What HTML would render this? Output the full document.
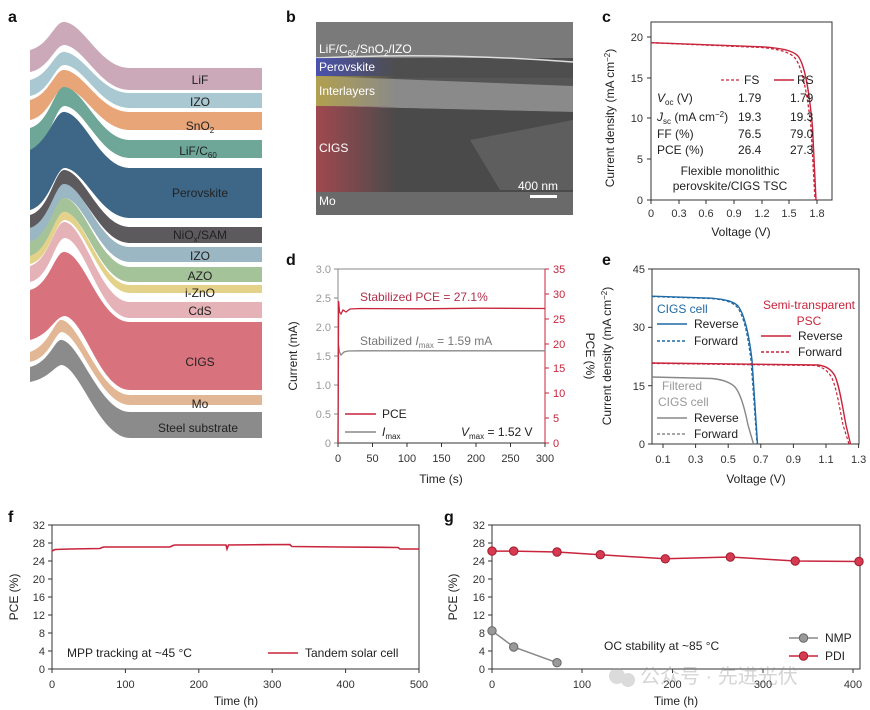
<!DOCTYPE html>
<html><head><meta charset="utf-8"><style>
html,body{margin:0;padding:0;background:#fff;}
svg{display:block;font-family:"Liberation Sans","Noto Sans CJK SC",sans-serif;}
.t{font-size:11px;fill:#333}
.l{font-size:12px;fill:#222}
.p{font-size:16px;font-weight:bold;fill:#111}
.ax{stroke:#333;stroke-width:1;fill:none}
</style></head><body>
<svg width="870" height="710" viewBox="0 0 870 710">
<defs>
<linearGradient id="semfade" x1="0" x2="1"><stop offset="0" stop-opacity="0.75"/><stop offset="1" stop-opacity="0"/></linearGradient>
<linearGradient id="blueF" x1="0" x2="1"><stop offset="0" stop-color="#4a52b8" stop-opacity="0.9"/><stop offset="1" stop-color="#4a52b8" stop-opacity="0"/></linearGradient>
<linearGradient id="yelF" x1="0" x2="1"><stop offset="0" stop-color="#b8a445" stop-opacity="0.85"/><stop offset="1" stop-color="#b8a445" stop-opacity="0"/></linearGradient>
<linearGradient id="redF" x1="0" x2="1"><stop offset="0" stop-color="#b04850" stop-opacity="0.85"/><stop offset="1" stop-color="#b04850" stop-opacity="0"/></linearGradient>
</defs>

<!-- Panel letters -->
<text x="8" y="22" class="p">a</text>
<text x="286" y="22" class="p">b</text>
<text x="602" y="22" class="p">c</text>
<text x="286" y="265" class="p">d</text>
<text x="602" y="265" class="p">e</text>
<text x="8" y="522" class="p">f</text>
<text x="444" y="522" class="p">g</text>

<!-- Panel a: layer stack -->
<g id="stack">
<!-- y0 top, h thickness, color -->
<path d="M30,50 C50,45 55,20 65,22 C85,25 100,68 130,68 L262,68 L262,90 L130,90 C100,90 85,48 65,45 C55,44 50,68 30,72 Z" fill="#cba9b9"/>
<path d="M30,80 C50,75 55,50 65,52 C85,55 100,93 130,93 L262,93 L262,108 L130,108 C100,108 85,67 65,65 C55,64 50,92 30,96 Z" fill="#a9c8d2"/>
<path d="M30,100 C50,95 55,68 65,70 C85,73 100,112 130,112 L262,112 L262,130 L130,130 C100,130 85,90 65,88 C55,87 50,116 30,120 Z" fill="#e7a578"/>
<path d="M30,128 C50,123 55,85 65,87 C85,90 100,140 130,140 L262,140 L262,158 L130,158 C100,158 85,108 65,106 C55,105 50,146 30,150 Z" fill="#6ea797"/>
<path d="M30,150 C50,140 55,110 65,112 C85,115 100,168 130,168 L262,168 L262,218 L130,218 C100,218 85,170 65,168 C55,168 50,205 30,210 Z" fill="#3e6687"/>
<path d="M30,215 C50,210 55,168 65,170 C85,173 100,227 130,227 L262,227 L262,243 L130,243 C100,243 85,188 65,186 C55,186 50,225 30,228 Z" fill="#5d5a5d"/>
<path d="M30,228 C50,222 55,182 65,184 C85,187 100,247 130,247 L262,247 L262,262 L130,262 C100,262 85,200 65,198 C55,198 50,238 30,242 Z" fill="#9bb7c3"/>
<path d="M30,242 C50,236 55,196 65,198 C85,201 100,267 130,267 L262,267 L262,282 L130,282 C100,282 85,215 65,212 C55,212 50,252 30,256 Z" fill="#a5c399"/>
<path d="M30,256 C50,250 55,210 65,212 C85,215 100,285 130,285 L262,285 L262,293 L130,293 C100,293 85,222 65,220 C55,220 50,260 30,264 Z" fill="#e5d28a"/>
<path d="M30,266 C50,260 55,220 65,222 C85,225 100,302 130,302 L262,302 L262,318 L130,318 C100,318 85,240 65,238 C55,238 50,278 30,282 Z" fill="#e5b3b7"/>
<path d="M30,290 C50,285 55,250 65,252 C85,255 100,322 130,322 L262,322 L262,390 L130,390 C100,390 85,320 65,316 C55,316 50,335 30,340 Z" fill="#d8737e"/>
<path d="M30,352 C50,345 55,318 62,320 C80,323 100,395 130,395 L262,395 L262,405 L130,405 C100,405 80,335 62,332 C55,332 50,358 30,362 Z" fill="#e2b795"/>
<path d="M30,367 C50,362 55,338 62,340 C80,343 100,412 130,412 L262,412 L262,438 L130,438 C100,438 80,368 62,365 C55,365 50,378 30,382 Z" fill="#8b8b8b"/>
</g>
<g font-size="12" fill="#222" text-anchor="middle">
<text x="200" y="84">LiF</text>
<text x="200" y="106">IZO</text>
<text x="200" y="130">SnO<tspan font-size="8" dy="3">2</tspan></text>
<text x="198" y="155">LiF/C<tspan font-size="8" dy="3">60</tspan></text>
<text x="200" y="197">Perovskite</text>
<text x="200" y="239">NiO<tspan font-size="8" dy="3">x</tspan><tspan dy="-3">/SAM</tspan></text>
<text x="200" y="260">IZO</text>
<text x="200" y="280">AZO</text>
<text x="200" y="297">i-ZnO</text>
<text x="200" y="315">CdS</text>
<text x="200" y="366">CIGS</text>
<text x="200" y="408">Mo</text>
<text x="198" y="432">Steel substrate</text>
</g>

<!-- Panel b: SEM -->
<rect x="316" y="22" width="257" height="193" fill="#555"/>
<rect x="316" y="22" width="257" height="38" fill="#7a7a7a"/>
<rect x="316" y="58" width="257" height="20" fill="#4e4e4e"/>
<path d="M316,76 L573,86 L573,112 L316,106 Z" fill="#8a8a8a"/>
<path d="M316,106 L573,112 L573,195 L316,192 Z" fill="#4a4a4a"/>
<path d="M470,140 L573,120 L573,190 L500,190 Z" fill="#5e5e5e"/>
<rect x="316" y="192" width="257" height="23" fill="#6a6a6a"/>
<path d="M316,58 Q440,52 573,62" stroke="#ddd" stroke-width="1.5" fill="none"/>
<rect x="316" y="58" width="80" height="18" fill="url(#blueF)"/>
<rect x="316" y="76" width="80" height="30" fill="url(#yelF)"/>
<rect x="316" y="106" width="80" height="86" fill="url(#redF)"/>
<g font-size="12" fill="#fff">
<text x="319" y="53">LiF/C<tspan font-size="8" dy="3">60</tspan><tspan dy="-3">/SnO</tspan><tspan font-size="8" dy="3">2</tspan><tspan dy="-3">/IZO</tspan></text>
<text x="319" y="71">Perovskite</text>
<text x="319" y="95">Interlayers</text>
<text x="319" y="152">CIGS</text>
<text x="319" y="205">Mo</text>
<text x="518" y="190">400 nm</text>
</g>
<rect x="530" y="195" width="27" height="3" fill="#fff"/>

<!-- Panel c -->
<g>
<rect x="651" y="22" width="181" height="178" class="ax"/>
<g stroke="#333"><line x1="647" y1="200" x2="651" y2="200"/><line x1="647" y1="159" x2="651" y2="159"/><line x1="647" y1="118" x2="651" y2="118"/><line x1="647" y1="78" x2="651" y2="78"/><line x1="647" y1="37" x2="651" y2="37"/>
<line x1="651" y1="200" x2="651" y2="204"/><line x1="679" y1="200" x2="679" y2="204"/><line x1="706" y1="200" x2="706" y2="204"/><line x1="734" y1="200" x2="734" y2="204"/><line x1="762" y1="200" x2="762" y2="204"/><line x1="789" y1="200" x2="789" y2="204"/><line x1="817" y1="200" x2="817" y2="204"/></g>
<g class="t" text-anchor="end"><text x="643" y="204">0</text><text x="643" y="163">5</text><text x="643" y="122">10</text><text x="643" y="82">15</text><text x="643" y="41">20</text></g>
<g class="t" text-anchor="middle"><text x="651" y="217">0</text><text x="679" y="217">0.3</text><text x="706" y="217">0.6</text><text x="734" y="217">0.9</text><text x="762" y="217">1.2</text><text x="789" y="217">1.5</text><text x="817" y="217">1.8</text></g>
<text x="741" y="236" class="l" text-anchor="middle">Voltage (V)</text>
<text transform="translate(614,118) rotate(-90)" class="l" text-anchor="middle">Current density (mA cm<tspan font-size="8" dy="-4">−2</tspan><tspan dy="4">)</tspan></text>
<path d="M651,42.7 L761.6,47.5 C778,49 790,52 795,58 C803,68 808,100 811,127 L815,200" stroke="#c8243c" stroke-width="1.3" fill="none" stroke-dasharray="3,2"/>
<path d="M651,42.7 L761.6,46.8 C780,48 792,50 798,56 C806,66 810,100 812.5,127 L816,200" stroke="#c8243c" stroke-width="1.4" fill="none"/>
<line x1="721" y1="80" x2="741" y2="80" stroke="#c8243c" stroke-width="1.3" stroke-dasharray="3,2"/>
<text x="744" y="84" class="l">FS</text>
<line x1="774" y1="80" x2="794" y2="80" stroke="#c8243c" stroke-width="1.4"/>
<text x="797" y="84" class="l">RS</text>
<g class="l">
<text x="657" y="102"><tspan font-style="italic">V</tspan><tspan font-size="8" dy="3">oc</tspan><tspan dy="-3"> (V)</tspan></text>
<text x="738" y="102">1.79</text><text x="790" y="102">1.79</text>
<text x="657" y="121"><tspan font-style="italic">J</tspan><tspan font-size="8" dy="3">sc</tspan><tspan dy="-3"> (mA cm</tspan><tspan font-size="8" dy="-4">−2</tspan><tspan dy="4">)</tspan></text>
<text x="738" y="121">19.3</text><text x="790" y="121">19.3</text>
<text x="657" y="138">FF (%)</text><text x="738" y="138">76.5</text><text x="790" y="138">79.0</text>
<text x="657" y="154">PCE (%)</text><text x="738" y="154">26.4</text><text x="790" y="154">27.3</text>
</g>
<text x="730" y="175" class="l" text-anchor="middle">Flexible monolithic</text>
<text x="730" y="190" class="l" text-anchor="middle">perovskite/CIGS TSC</text>
</g>

<!-- Panel d -->
<g>
<line x1="338" y1="269" x2="545" y2="269" stroke="#888"/>
<line x1="338" y1="269" x2="338" y2="443" stroke="#888"/>
<line x1="338" y1="443" x2="545" y2="443" stroke="#333"/>
<line x1="545" y1="269" x2="545" y2="443" stroke="#c8243c"/>
<g stroke="#888"><line x1="334" y1="443" x2="338" y2="443"/><line x1="334" y1="414" x2="338" y2="414"/><line x1="334" y1="385" x2="338" y2="385"/><line x1="334" y1="356" x2="338" y2="356"/><line x1="334" y1="327" x2="338" y2="327"/><line x1="334" y1="298" x2="338" y2="298"/><line x1="334" y1="269" x2="338" y2="269"/></g>
<g stroke="#c8243c"><line x1="545" y1="443" x2="549" y2="443"/><line x1="545" y1="418" x2="549" y2="418"/><line x1="545" y1="393" x2="549" y2="393"/><line x1="545" y1="368" x2="549" y2="368"/><line x1="545" y1="344" x2="549" y2="344"/><line x1="545" y1="319" x2="549" y2="319"/><line x1="545" y1="294" x2="549" y2="294"/><line x1="545" y1="269" x2="549" y2="269"/></g>
<g stroke="#333"><line x1="338" y1="443" x2="338" y2="447"/><line x1="372.5" y1="443" x2="372.5" y2="447"/><line x1="407" y1="443" x2="407" y2="447"/><line x1="441.5" y1="443" x2="441.5" y2="447"/><line x1="476" y1="443" x2="476" y2="447"/><line x1="510.5" y1="443" x2="510.5" y2="447"/><line x1="545" y1="443" x2="545" y2="447"/></g>
<g class="t" text-anchor="end" style="fill:#999"><text x="331" y="447">0</text><text x="331" y="418">0.5</text><text x="331" y="389">1.0</text><text x="331" y="360">1.5</text><text x="331" y="331">2.0</text><text x="331" y="302">2.5</text><text x="331" y="273">3.0</text></g>
<g class="t" style="fill:#c8243c"><text x="553" y="447">0</text><text x="553" y="422">5</text><text x="553" y="397">10</text><text x="553" y="372">15</text><text x="553" y="348">20</text><text x="553" y="323">25</text><text x="553" y="298">30</text><text x="553" y="273">35</text></g>
<g class="t" text-anchor="middle"><text x="338" y="462">0</text><text x="372.5" y="462">50</text><text x="407" y="462">100</text><text x="441.5" y="462">150</text><text x="476" y="462">200</text><text x="510.5" y="462">250</text><text x="545" y="462">300</text></g>
<text x="441" y="483" class="l" text-anchor="middle">Time (s)</text>
<text transform="translate(297,356) rotate(-90)" class="l" text-anchor="middle">Current (mA)</text>
<text transform="translate(586,356) rotate(90)" class="l" text-anchor="middle">PCE (%)</text>
<path d="M338,443 L338.5,345 L339.5,352 L341,355 L344,352 L348,351 L360,350.8 L545,350.8" stroke="#888" stroke-width="1.3" fill="none"/>
<path d="M338,443 L338.6,301 L339.5,312 L341,314 L343,310 L346,312 L350,309 L360,308.5 L420,308.8 L480,308.2 L545,308.5" stroke="#c8243c" stroke-width="1.3" fill="none"/>
<text x="360" y="301" class="l" style="fill:#b0304a">Stabilized PCE = 27.1%</text>
<text x="360" y="345" class="l" style="fill:#777">Stabilized <tspan font-style="italic">I</tspan><tspan font-size="8" dy="3">max</tspan><tspan dy="-3"> = 1.59 mA</tspan></text>
<line x1="345" y1="414" x2="376" y2="414" stroke="#c8243c" stroke-width="1.4"/>
<text x="382" y="418" class="l">PCE</text>
<line x1="345" y1="432" x2="376" y2="432" stroke="#888" stroke-width="1.4"/>
<text x="382" y="436" class="l"><tspan font-style="italic">I</tspan><tspan font-size="8" dy="3">max</tspan></text>
<text x="461" y="436" class="l"><tspan font-style="italic">V</tspan><tspan font-size="8" dy="3">max</tspan><tspan dy="-3"> = 1.52 V</tspan></text>
</g>

<!-- Panel e -->
<g>
<rect x="652" y="269" width="207" height="175" class="ax"/>
<g stroke="#333"><line x1="648" y1="444" x2="652" y2="444"/><line x1="648" y1="385.7" x2="652" y2="385.7"/><line x1="648" y1="327.3" x2="652" y2="327.3"/><line x1="648" y1="269" x2="652" y2="269"/>
<line x1="663" y1="444" x2="663" y2="448"/><line x1="695.6" y1="444" x2="695.6" y2="448"/><line x1="728.2" y1="444" x2="728.2" y2="448"/><line x1="760.8" y1="444" x2="760.8" y2="448"/><line x1="793.4" y1="444" x2="793.4" y2="448"/><line x1="826" y1="444" x2="826" y2="448"/><line x1="858.6" y1="444" x2="858.6" y2="448"/></g>
<g class="t" text-anchor="end"><text x="645" y="448">0</text><text x="645" y="390">15</text><text x="645" y="331">30</text><text x="645" y="273">45</text></g>
<g class="t" text-anchor="middle"><text x="663" y="463">0.1</text><text x="695.6" y="463">0.3</text><text x="728.2" y="463">0.5</text><text x="760.8" y="463">0.7</text><text x="793.4" y="463">0.9</text><text x="826" y="463">1.1</text><text x="858.6" y="463">1.3</text></g>
<text x="756" y="483" class="l" text-anchor="middle">Voltage (V)</text>
<text transform="translate(611,356) rotate(-90)" class="l" text-anchor="middle">Current density (mA cm<tspan font-size="8" dy="-4">−2</tspan><tspan dy="4">)</tspan></text>
<path d="M652,296.2 L711.9,298.2 C725,299.5 733,301 738,306 C745,315 749,335 752,360 L757.5,444" stroke="#1f6aa5" stroke-width="1.4" fill="none"/>
<path d="M652,296.6 L711.9,298.6 C725,300 732,302 737,307 C744,316 748,336 751,361 L757,444" stroke="#1f6aa5" stroke-width="1.2" fill="none" stroke-dasharray="3,2"/>
<path d="M652,377 L711.9,378.5 C722,379.5 730,382 735,387 C741,394 745,410 748,425 L753.5,444" stroke="#888" stroke-width="1.4" fill="none"/>
<path d="M652,363 L818,365 C826,366 831,369 835,376 C840,388 843,410 846,425 L850.5,444" stroke="#c8243c" stroke-width="1.4" fill="none"/>
<path d="M652,363.4 L815,365.5 C823,367 828,371 832,378 C837,390 840,410 843,425 L849,444" stroke="#c8243c" stroke-width="1.2" fill="none" stroke-dasharray="3,2"/>
<text x="657" y="313" class="l" style="fill:#1f6aa5">CIGS cell</text>
<line x1="657" y1="324" x2="687" y2="324" stroke="#1f6aa5" stroke-width="1.4"/><text x="694" y="328" class="l">Reverse</text>
<line x1="657" y1="341" x2="687" y2="341" stroke="#1f6aa5" stroke-width="1.4" stroke-dasharray="3,2"/><text x="694" y="345" class="l">Forward</text>
<text x="809" y="309" class="l" text-anchor="middle" style="fill:#c8243c">Semi-transparent</text>
<text x="809" y="325" class="l" text-anchor="middle" style="fill:#c8243c">PSC</text>
<line x1="761" y1="336" x2="791" y2="336" stroke="#c8243c" stroke-width="1.4"/><text x="798" y="340" class="l">Reverse</text>
<line x1="761" y1="352" x2="791" y2="352" stroke="#c8243c" stroke-width="1.4" stroke-dasharray="3,2"/><text x="798" y="356" class="l">Forward</text>
<text x="662" y="390" class="l" style="fill:#999">Filtered</text>
<text x="658" y="406" class="l" style="fill:#999">CIGS cell</text>
<line x1="657" y1="418" x2="687" y2="418" stroke="#888" stroke-width="1.4"/><text x="694" y="422" class="l">Reverse</text>
<line x1="657" y1="434" x2="687" y2="434" stroke="#888" stroke-width="1.4" stroke-dasharray="3,2"/><text x="694" y="438" class="l">Forward</text>
</g>

<!-- Panel f -->
<g>
<rect x="52" y="525" width="367" height="144" class="ax"/>
<g stroke="#333">
<line x1="48" y1="669" x2="52" y2="669"/><line x1="48" y1="651" x2="52" y2="651"/><line x1="48" y1="633" x2="52" y2="633"/><line x1="48" y1="615" x2="52" y2="615"/><line x1="48" y1="597" x2="52" y2="597"/><line x1="48" y1="579" x2="52" y2="579"/><line x1="48" y1="561" x2="52" y2="561"/><line x1="48" y1="543" x2="52" y2="543"/><line x1="48" y1="525" x2="52" y2="525"/>
<line x1="52" y1="669" x2="52" y2="673"/><line x1="125.4" y1="669" x2="125.4" y2="673"/><line x1="198.8" y1="669" x2="198.8" y2="673"/><line x1="272.2" y1="669" x2="272.2" y2="673"/><line x1="345.6" y1="669" x2="345.6" y2="673"/><line x1="419" y1="669" x2="419" y2="673"/></g>
<g class="t" text-anchor="end"><text x="45" y="673">0</text><text x="45" y="655">4</text><text x="45" y="637">8</text><text x="45" y="619">12</text><text x="45" y="601">16</text><text x="45" y="583">20</text><text x="45" y="565">24</text><text x="45" y="547">28</text><text x="45" y="529">32</text></g>
<g class="t" text-anchor="middle"><text x="52" y="688">0</text><text x="125.4" y="688">100</text><text x="198.8" y="688">200</text><text x="272.2" y="688">300</text><text x="345.6" y="688">400</text><text x="419" y="688">500</text></g>
<text x="236" y="705" class="l" text-anchor="middle">Time (h)</text>
<text transform="translate(18,597) rotate(-90)" class="l" text-anchor="middle">PCE (%)</text>
<path d="M52,551 L55,549.5 L70,549 L100,548.5 L102,547.5 L104,547 L170,547 L173,545.5 L175,545 L226,545 L227,549 L228.5,545 L260,544.7 L290,544.5 L290,545 L292,546.5 L340,547 L398,547.5 L400,549 L419,549" stroke="#c8243c" stroke-width="1.6" fill="none"/>
<text x="67" y="657" class="l">MPP tracking at ~45 °C</text>
<line x1="268" y1="653" x2="298" y2="653" stroke="#c8243c" stroke-width="1.5"/>
<text x="305" y="657" class="l">Tandem solar cell</text>
</g>

<!-- Panel g -->
<g>
<rect x="492" y="525" width="368" height="144" class="ax"/>
<g stroke="#333">
<line x1="488" y1="669" x2="492" y2="669"/><line x1="488" y1="651" x2="492" y2="651"/><line x1="488" y1="633" x2="492" y2="633"/><line x1="488" y1="615" x2="492" y2="615"/><line x1="488" y1="597" x2="492" y2="597"/><line x1="488" y1="579" x2="492" y2="579"/><line x1="488" y1="561" x2="492" y2="561"/><line x1="488" y1="543" x2="492" y2="543"/><line x1="488" y1="525" x2="492" y2="525"/>
<line x1="492" y1="669" x2="492" y2="673"/><line x1="582" y1="669" x2="582" y2="673"/><line x1="672.5" y1="669" x2="672.5" y2="673"/><line x1="763" y1="669" x2="763" y2="673"/><line x1="853" y1="669" x2="853" y2="673"/></g>
<g class="t" text-anchor="end"><text x="485" y="673">0</text><text x="485" y="655">4</text><text x="485" y="637">8</text><text x="485" y="619">12</text><text x="485" y="601">16</text><text x="485" y="583">20</text><text x="485" y="565">24</text><text x="485" y="547">28</text><text x="485" y="529">32</text></g>
<text transform="translate(457,597) rotate(-90)" class="l" text-anchor="middle">PCE (%)</text>
<g opacity="0.35">
<circle cx="617" cy="676" r="8" fill="#999"/><circle cx="628" cy="680" r="7" fill="#999"/>
<text x="640" y="683" font-size="20" fill="#888">公众号 · 先进光伏</text>
</g>
<g class="t" text-anchor="middle"><text x="492" y="688">0</text><text x="582" y="688">100</text><text x="672.5" y="688">200</text><text x="763" y="688">300</text><text x="853" y="688">400</text></g>
<text x="676" y="705" class="l" text-anchor="middle">Time (h)</text>
<polyline points="492,551.1 513.7,551.1 557,552 600.3,554.7 665.3,558.8 730.3,557 795.2,561 860,561.5" stroke="#c8243c" stroke-width="1.5" fill="none"/>
<g fill="#d63a50" stroke="#9e1a2e" stroke-width="1">
<circle cx="492" cy="551.1" r="4.2"/><circle cx="513.7" cy="551.1" r="4.2"/><circle cx="557" cy="552" r="4.2"/><circle cx="600.3" cy="554.7" r="4.2"/><circle cx="665.3" cy="558.8" r="4.2"/><circle cx="730.3" cy="557" r="4.2"/><circle cx="795.2" cy="561" r="4.2"/><circle cx="859" cy="561.5" r="4.2"/></g>
<polyline points="492,630.8 513.7,647 557,662.7" stroke="#888" stroke-width="1.5" fill="none"/>
<g fill="#999" stroke="#666" stroke-width="1"><circle cx="492" cy="630.8" r="4.2"/><circle cx="513.7" cy="647" r="4.2"/><circle cx="557" cy="662.7" r="4.2"/></g>
<text x="604" y="650" class="l">OC stability at ~85 °C</text>
<line x1="789" y1="638" x2="818" y2="638" stroke="#888" stroke-width="1.5"/><circle cx="803.5" cy="638" r="4.2" fill="#999" stroke="#666"/>
<text x="825" y="642" class="l">NMP</text>
<line x1="789" y1="656" x2="818" y2="656" stroke="#c8243c" stroke-width="1.5"/><circle cx="803.5" cy="656" r="4.2" fill="#d63a50" stroke="#9e1a2e"/>
<text x="825" y="660" class="l">PDI</text>
</g>
</svg>
</body></html>
